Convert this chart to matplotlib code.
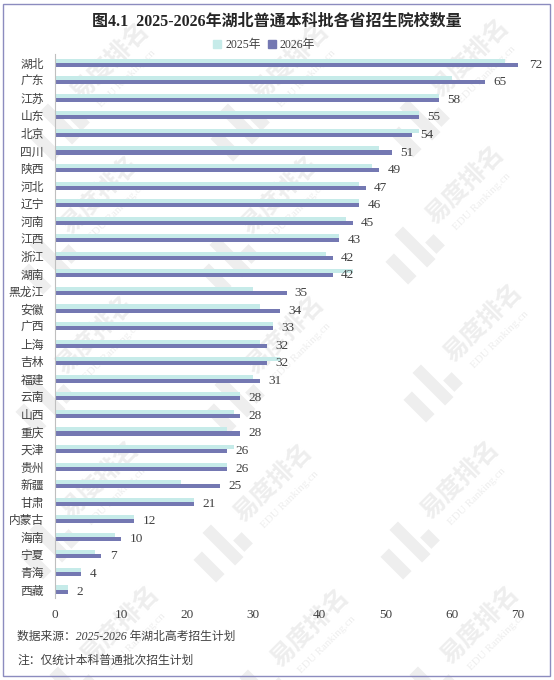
import matplotlib
matplotlib.use('Agg')
import matplotlib.pyplot as plt
from matplotlib.patches import Rectangle, Polygon
import numpy as np

provinces = ['湖北', '广东', '江苏', '山东', '北京', '四川', '陕西', '河北', '辽宁', '河南',
             '江西', '浙江', '湖南', '黑龙江', '安徽', '广西', '上海', '吉林', '福建', '云南',
             '山西', '重庆', '天津', '贵州', '新疆', '甘肃', '内蒙古', '海南', '宁夏', '青海', '西藏']
v2025 = [68, 60, 58, 55, 55, 49, 48, 46, 46, 44, 43, 41, 45, 30, 31, 33, 31, 34, 30, 28,
         27, 26, 27, 26, 19, 21, 12, 9, 6, 4, 2]
v2026 = [72, 65, 58, 55, 54, 51, 49, 47, 46, 45, 43, 42, 42, 35, 34, 33, 32, 32, 31, 28,
         28, 28, 26, 26, 25, 21, 12, 10, 7, 4, 2]
series_names = ['2025年', '2026年']
xticks = [0, 10, 20, 30, 40, 50, 60, 70]
title = '图4.1  2025-2026年湖北普通本科批各省招生院校数量'
note1 = '数据来源：2025-2026 年湖北高考招生计划'
note2 = '注：仅统计本科普通批次招生计划'

C25 = '#C6EBE9'
C26 = '#7478B2'
W, H = 554, 680
FAM = ['Liberation Serif', 'Noto Sans CJK SC']
CJK = ['Noto Sans CJK SC', 'DejaVu Sans']

fig = plt.figure(figsize=(W / 100, H / 100), dpi=100)
fig.patch.set_facecolor('white')

# ---- watermark (decorative, behind chart) ----
WM = '#EEEEEE'
tiles = [(110, 62), (290, 62), (470, 58),
         (100, 195), (280, 195), (465, 185),
         (95, 335), (285, 335), (483, 323),
         (100, 480), (273, 483), (460, 480),
         (120, 625), (310, 628), (480, 625)]


def stripe(cx, cy, length, width):
    ux, uy = 0.707, 0.707      # along (top-left -> bottom-right)
    vx, vy = 0.707, -0.707     # perpendicular
    hl, hw = length / 2, width / 2
    pts = [(cx - ux * hl - vx * hw, cy - uy * hl - vy * hw),
           (cx + ux * hl - vx * hw, cy + uy * hl - vy * hw),
           (cx + ux * hl + vx * hw, cy + uy * hl + vy * hw),
           (cx - ux * hl + vx * hw, cy - uy * hl + vy * hw)]
    pts = [(px / W, 1 - py / H) for px, py in pts]
    fig.patches.append(Polygon(pts, closed=True, transform=fig.transFigure,
                               facecolor=WM, edgecolor='none', zorder=-10))


for cx, cy in tiles:
    fig.text(cx / W, 1 - cy / H, '易度排名', rotation=45, fontsize=18, weight='bold',
             color=WM, ha='center', va='center', family=CJK, zorder=-10)
    fig.text((cx + 17) / W, 1 - (cy + 17) / H, 'EDU Ranking.cn', rotation=45, fontsize=8,
             color=WM, ha='center', va='center', family='Liberation Serif', zorder=-10)
    lx, ly = cx - 50, cy + 62
    stripe(lx, ly, 46, 12)
    stripe(lx - 14, ly + 22, 32, 12)
    stripe(lx + 20, ly - 3, 16, 12)

# ---- axes ----
left, right = 55, 518
top, bottom = 53.9, 598.3
ax = fig.add_axes([left / W, 1 - bottom / H, (right - left) / W, (bottom - top) / H])
ax.set_facecolor('none')

n = len(provinces)
y = np.arange(n)
bh = 0.23
ax.barh(y - bh / 2, v2025, bh, color=C25, label=series_names[0], zorder=2)
ax.barh(y + bh / 2, v2026, bh, color=C26, label=series_names[1], zorder=2)

ax.set_xlim(0, 70)
ax.set_ylim(n - 0.5, -0.5)
ax.set_xticks(xticks)
ax.set_xticklabels([str(t) for t in xticks], family='Liberation Serif', fontsize=9.5,
                   color='#404040')
ax.set_yticks(y)
ax.set_yticklabels(provinces, family=CJK, fontsize=8.5, color='#404040')
ax.tick_params(axis='both', length=0)
ax.tick_params(axis='x', pad=8)
ax.tick_params(axis='y', pad=8)
for s in ['top', 'right', 'bottom']:
    ax.spines[s].set_visible(False)
ax.spines['left'].set_color('#BFBFBF')
ax.spines['left'].set_linewidth(0.8)

xmax = ax.get_xlim()[1]
for i, v in enumerate(v2026):
    ax.annotate(str(v), xy=(min(v, xmax), i + bh / 2), xytext=(6 if v < xmax else 8, 0),
                textcoords='offset points', ha='left', va='center',
                family='Liberation Serif', fontsize=9.5, color='#404040',
                annotation_clip=False)

# ---- legend ----
handles = [Rectangle((0, 0), 1, 1, color=C25), Rectangle((0, 0), 1, 1, color=C26)]
fig.legend(handles, series_names, loc='center', bbox_to_anchor=(264 / W, 1 - 45 / H),
           ncol=2, frameon=False, handlelength=0.7, handleheight=0.7, handletextpad=0.3,
           columnspacing=0.6, prop={'family': FAM, 'size': 8.5}, labelcolor='#404040')

# ---- title & notes ----
fig.text(0.5, 1 - 22 / H, title, ha='center', va='center', fontsize=11.5, weight='bold',
         family=FAM, color='#262626')
fig.text(17 / W, 1 - 637 / H, note1, ha='left', va='center', fontsize=8.5, style='italic',
         family=FAM, color='#404040')
fig.text(17 / W, 1 - 661 / H, note2, ha='left', va='center', fontsize=8.5, style='italic',
         family=FAM, color='#404040')

# ---- border ----
fig.patches.append(Rectangle((3 / W, 4 / H), (550 - 3) / W, (676 - 4) / H,
                             transform=fig.transFigure, fill=False,
                             edgecolor='#8C8CBF', linewidth=1.0, zorder=5))

fig.savefig('out.png', dpi=100, facecolor='white')
